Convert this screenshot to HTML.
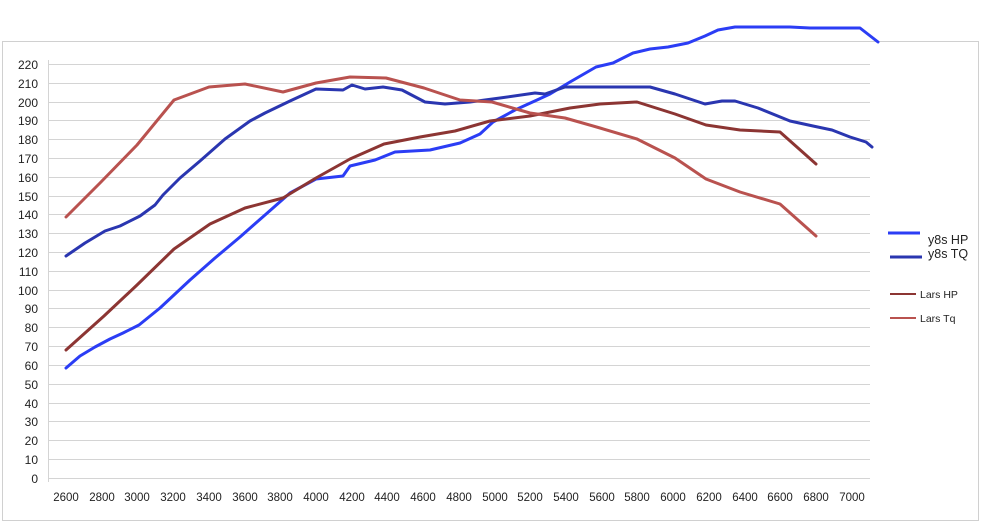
<!DOCTYPE html>
<html><head><meta charset="utf-8"><style>
html,body{margin:0;padding:0;background:#fff;}
svg{display:block;font-family:"Liberation Sans",sans-serif;}
</style></head><body>
<svg width="981" height="524" viewBox="0 0 981 524">
<rect x="2.5" y="41.5" width="976" height="479" fill="#fff" stroke="#d0d0d0"/>
<g stroke="#d4d4d4" stroke-width="1">
<line x1="48" y1="478.5" x2="870" y2="478.5"/>
<line x1="48" y1="459.5" x2="870" y2="459.5"/><line x1="48" y1="440.5" x2="870" y2="440.5"/>
<line x1="48" y1="421.5" x2="870" y2="421.5"/><line x1="48" y1="403.5" x2="870" y2="403.5"/>
<line x1="48" y1="384.5" x2="870" y2="384.5"/><line x1="48" y1="365.5" x2="870" y2="365.5"/>
<line x1="48" y1="346.5" x2="870" y2="346.5"/><line x1="48" y1="327.5" x2="870" y2="327.5"/>
<line x1="48" y1="308.5" x2="870" y2="308.5"/><line x1="48" y1="290.5" x2="870" y2="290.5"/>
<line x1="48" y1="271.5" x2="870" y2="271.5"/><line x1="48" y1="252.5" x2="870" y2="252.5"/>
<line x1="48" y1="233.5" x2="870" y2="233.5"/><line x1="48" y1="214.5" x2="870" y2="214.5"/>
<line x1="48" y1="196.5" x2="870" y2="196.5"/><line x1="48" y1="177.5" x2="870" y2="177.5"/>
<line x1="48" y1="158.5" x2="870" y2="158.5"/><line x1="48" y1="139.5" x2="870" y2="139.5"/>
<line x1="48" y1="120.5" x2="870" y2="120.5"/><line x1="48" y1="102.5" x2="870" y2="102.5"/>
<line x1="48" y1="83.5" x2="870" y2="83.5"/><line x1="48" y1="64.5" x2="870" y2="64.5"/>
<line x1="48.5" y1="60" x2="48.5" y2="482"/>
</g>
<g font-size="12" fill="#222" text-anchor="end">
<text x="38" y="483">0</text><text x="38" y="464">10</text><text x="38" y="445">20</text>
<text x="38" y="426">30</text><text x="38" y="408">40</text><text x="38" y="389">50</text>
<text x="38" y="370">60</text><text x="38" y="351">70</text><text x="38" y="332">80</text>
<text x="38" y="313">90</text><text x="38" y="295">100</text><text x="38" y="276">110</text>
<text x="38" y="257">120</text><text x="38" y="238">130</text><text x="38" y="219">140</text>
<text x="38" y="201">150</text><text x="38" y="182">160</text><text x="38" y="163">170</text>
<text x="38" y="144">180</text><text x="38" y="125">190</text><text x="38" y="107">200</text>
<text x="38" y="88">210</text><text x="38" y="69">220</text>
</g>
<g font-size="11.5" fill="#222" text-anchor="middle">
<text x="66" y="501">2600</text><text x="102" y="501">2800</text><text x="137" y="501">3000</text>
<text x="173" y="501">3200</text><text x="209" y="501">3400</text><text x="245" y="501">3600</text>
<text x="280" y="501">3800</text><text x="316" y="501">4000</text><text x="352" y="501">4200</text>
<text x="387" y="501">4400</text><text x="423" y="501">4600</text><text x="459" y="501">4800</text>
<text x="495" y="501">5000</text><text x="530" y="501">5200</text><text x="566" y="501">5400</text>
<text x="602" y="501">5600</text><text x="637" y="501">5800</text><text x="673" y="501">6000</text>
<text x="709" y="501">6200</text><text x="745" y="501">6400</text><text x="780" y="501">6600</text>
<text x="816" y="501">6800</text><text x="852" y="501">7000</text>
</g>
<g fill="none" stroke-width="3" stroke-linejoin="round" stroke-linecap="round">
<polyline stroke="#2b3df5" points="66,368 80,356 95,347 110,339 123,333 139,325 160,308 190,280 215,258 240,237 265,215 290,193 316,179 343,176 350,166 375,160 395,152 430,150 460,143 480,134 493,122 515,110 537,100 550,94 570,82 596,67 613,63 633,53 650,49 668,47 688,43 705,36 718,30 735,27 790,27 810,28 860,28 878,42"/>
<polyline stroke="#2a36b0" points="66,256 85,243 105,231 120,226 140,216 155,205 163,195 180,178 200,161 225,139 250,121 265,113 290,101 316,89 343,90 352,85 365,89 383,87 402,90 425,102 445,104 470,102 500,98 535,93 545,94 565,87 650,87 675,94 705,104 722,101 735,101 758,108 790,121 813,126 832,130 850,137 866,142 872,147"/>
<polyline stroke="#8c3533" points="66,350 85,333 104,316 137,285 174,249 210,224 245,208 283,198 316,178 350,159 384,144 420,137 455,131 490,121 530,116 570,108 600,104 637,102 675,114 706,125 740,130 780,132 816,164"/>
<polyline stroke="#b9524f" points="66,217 100,183 137,145 174,100 209,87 245,84 283,92 316,83 350,77 386,78 424,88 460,100 492,102 530,113 565,118 600,128 637,139 675,158 706,179 740,192 780,204 816,236"/>
</g>
<line x1="888" y1="233" x2="920" y2="233" stroke="#2b3df5" stroke-width="3"/>
<line x1="890" y1="257" x2="922" y2="257" stroke="#2a36b0" stroke-width="3"/>
<line x1="890" y1="294" x2="916" y2="294" stroke="#8c3533" stroke-width="2"/>
<line x1="890" y1="318" x2="916" y2="318" stroke="#b9524f" stroke-width="2"/>
<g fill="#222">
<text x="928" y="244" font-size="12.5">y8s HP</text>
<text x="928" y="258" font-size="12.5">y8s TQ</text>
<text x="920" y="298" font-size="10.5">Lars HP</text>
<text x="920" y="322" font-size="10.5">Lars Tq</text>
</g>
</svg>
</body></html>
